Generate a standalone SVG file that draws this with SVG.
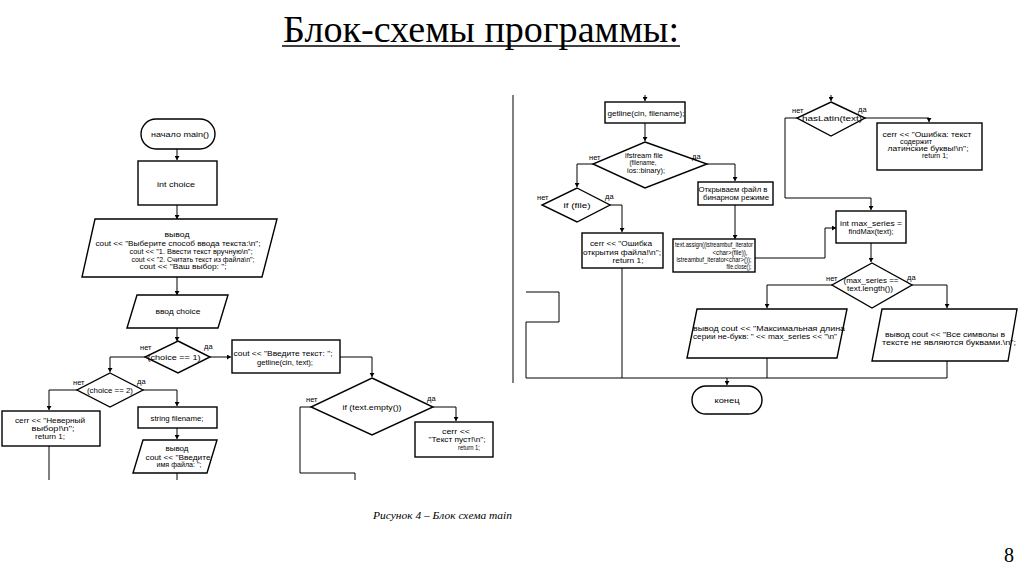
<svg xmlns="http://www.w3.org/2000/svg" width="1024" height="574" viewBox="0 0 1024 574">
<style>
.s{fill:#fff;stroke:#000;stroke-width:1.4}
.c{fill:none;stroke:#000;stroke-width:1}
.t{font-family:"Liberation Sans",Arial,sans-serif;font-size:8px;fill:#000;text-anchor:middle}
.l{font-family:"Liberation Sans",Arial,sans-serif;font-size:7.5px;fill:#000}
</style>
<defs>
<marker id="a" markerWidth="5" markerHeight="5" refX="4" refY="2.5" orient="auto" markerUnits="userSpaceOnUse">
<path d="M0,0 L4,2.5 L0,5 z" fill="#000"/>
</marker>
</defs>
<rect width="1024" height="574" fill="#fff"/>
<text x="481" y="42" font-family="Liberation Serif,serif" font-size="38" text-anchor="middle" textLength="396" lengthAdjust="spacingAndGlyphs">Блок-схемы программы:</text>
<line x1="282" y1="46" x2="680" y2="46" stroke="#000" stroke-width="1.5"/>

<g id="connectors">
<path class="c" d="M177,149 V160" marker-end="url(#a)"/>
<path class="c" d="M177,205 V219" marker-end="url(#a)"/>
<path class="c" d="M177,277 V295" marker-end="url(#a)"/>
<path class="c" d="M177,328 V341" marker-end="url(#a)"/>
<path class="c" d="M145,357 H110 V372" marker-end="url(#a)"/>
<path class="c" d="M210,357 H231" marker-end="url(#a)"/>
<path class="c" d="M77,390 H49 V410" marker-end="url(#a)"/>
<path class="c" d="M49,446 V480"/>
<path class="c" d="M143,390 H177 V406" marker-end="url(#a)"/>
<path class="c" d="M177,428 V439" marker-end="url(#a)"/>
<path class="c" d="M177,473 V480"/>
<path class="c" d="M340,357 H372 V377" marker-end="url(#a)"/>
<path class="c" d="M433,407 H456 V421" marker-end="url(#a)"/>
<path class="c" d="M311,407 H300 V473 H355 V480"/>

<path class="c" d="M513,95 V383"/>
<path class="c" d="M526,292 H559 V322 H526 V378 H947"/>
<path class="c" d="M645,95 V101" marker-end="url(#a)"/>
<path class="c" d="M645,123 V141" marker-end="url(#a)"/>
<path class="c" d="M593,164 H577 V187" marker-end="url(#a)"/>
<path class="c" d="M610,205 H622 V232" marker-end="url(#a)"/>
<path class="c" d="M622,268 V378"/>
<path class="c" d="M707,164 H735 V181" marker-end="url(#a)"/>
<path class="c" d="M735,205 V239" marker-end="url(#a)"/>
<path class="c" d="M755,258 H825 V228 H836" marker-end="url(#a)"/>
<path class="c" d="M831,95 V101" marker-end="url(#a)"/>
<path class="c" d="M797,118 H785 V198 H871 V210" marker-end="url(#a)"/>
<path class="c" d="M865,118 H929 V122" marker-end="url(#a)"/>
<path class="c" d="M871,243 V262" marker-end="url(#a)"/>
<path class="c" d="M832,285 H767 V308" marker-end="url(#a)"/>
<path class="c" d="M912,285 H947 V308" marker-end="url(#a)"/>
<path class="c" d="M767,358 V378"/>
<path class="c" d="M947,361 V378"/>
<path class="c" d="M727,378 V385" marker-end="url(#a)"/>
</g>

<g id="start"><rect class="s" x="141" y="119" width="74" height="30" rx="15"/><text class="t" x="180" y="137" textLength="58" lengthAdjust="spacingAndGlyphs">начало main()</text></g>
<g id="int-choice"><rect class="s" x="138" y="161" width="79" height="44"/><text class="t" x="176" y="187" textLength="38" lengthAdjust="spacingAndGlyphs">int choice</text></g>
<g id="menu-output"><polygon class="s" points="95,219 277,219 262,277 82,277"/>
<text class="t" x="177" y="237" textLength="25" lengthAdjust="spacingAndGlyphs">вывод</text>
<text class="t" x="178" y="246" textLength="165" lengthAdjust="spacingAndGlyphs">cout &lt;&lt; "Выберите способ ввода текста:\n";</text>
<text class="t" x="191" y="254" textLength="123" lengthAdjust="spacingAndGlyphs">cout &lt;&lt; "1. Ввести текст вручную\n";</text>
<text class="t" x="193" y="262" textLength="123" lengthAdjust="spacingAndGlyphs">cout &lt;&lt; "2. Считать текст из файла\n";</text>
<text class="t" x="183" y="269" textLength="87" lengthAdjust="spacingAndGlyphs">cout &lt;&lt; "Ваш выбор: ";</text></g>
<g id="input-choice"><polygon class="s" points="137,295 228,295 218,328 127,328"/><text class="t" x="178" y="314" textLength="45" lengthAdjust="spacingAndGlyphs">ввод choice</text></g>
<g id="choice1"><polygon class="s" points="178,341 210,357 178,373 145,357"/><text class="t" x="174" y="360" textLength="53" lengthAdjust="spacingAndGlyphs">(choice == 1)</text>
<text class="l" x="140" y="350">нет</text><text class="l" x="204" y="349">да</text></g>
<g id="choice2"><polygon class="s" points="110,373 143,390 110,407 77,390"/><text class="t" x="110" y="393" textLength="46" lengthAdjust="spacingAndGlyphs">(choice == 2)</text>
<text class="l" x="73" y="385">нет</text><text class="l" x="137" y="384">да</text></g>
<g id="err-choice"><rect class="s" x="2" y="411" width="98" height="35"/>
<text class="t" x="50" y="423" textLength="70" lengthAdjust="spacingAndGlyphs">cerr &lt;&lt; "Неверный</text><text class="t" x="53" y="431" textLength="43" lengthAdjust="spacingAndGlyphs">выбор!\n";</text><text class="t" x="50" y="439" textLength="30" lengthAdjust="spacingAndGlyphs">return 1;</text></g>
<g id="string-filename"><rect class="s" x="138" y="407" width="79" height="21"/><text class="t" x="177" y="421" textLength="53" lengthAdjust="spacingAndGlyphs">string filename;</text></g>
<g id="ask-filename"><polygon class="s" points="143,440 217,440 207,473 133,473"/>
<text class="t" x="177" y="451" textLength="23" lengthAdjust="spacingAndGlyphs">вывод</text><text class="t" x="178" y="460" textLength="65" lengthAdjust="spacingAndGlyphs">cout &lt;&lt; "Введите</text><text class="t" x="179" y="467" textLength="45" lengthAdjust="spacingAndGlyphs">имя файла: ";</text></g>
<g id="input-text"><rect class="s" x="232" y="340" width="108" height="33"/>
<text class="t" x="283" y="356" textLength="99" lengthAdjust="spacingAndGlyphs">cout &lt;&lt; "Введите текст: ";</text><text class="t" x="285" y="365" textLength="56" lengthAdjust="spacingAndGlyphs">getline(cin, text);</text></g>
<g id="text-empty"><polygon class="s" points="372,378 433,407 372,435 311,407"/><text class="t" x="372" y="410" textLength="59" lengthAdjust="spacingAndGlyphs">if (text.empty())</text>
<text class="l" x="306" y="402">нет</text><text class="l" x="427" y="401">да</text></g>
<g id="err-empty"><rect class="s" x="415" y="422" width="78" height="35"/>
<text class="t" x="456" y="434" textLength="28" lengthAdjust="spacingAndGlyphs">cerr &lt;&lt;</text><text class="t" x="457" y="442" textLength="57" lengthAdjust="spacingAndGlyphs">"Текст пуст!\n";</text><text class="t" x="469" y="450" textLength="22" lengthAdjust="spacingAndGlyphs">return 1;</text></g>

<g id="getline-filename"><rect class="s" x="605" y="102" width="80" height="21"/><text class="t" x="646" y="116" textLength="77" lengthAdjust="spacingAndGlyphs">getline(cin, filename);</text></g>
<g id="ifstream"><polygon class="s" points="645,142 707,164 645,188 593,164"/>
<text class="t" x="644" y="158" textLength="38" lengthAdjust="spacingAndGlyphs">ifstream file</text><text class="t" x="643" y="165" textLength="27" lengthAdjust="spacingAndGlyphs">(filename,</text><text class="t" x="646" y="173" textLength="38" lengthAdjust="spacingAndGlyphs">ios::binary);</text>
<text class="l" x="589" y="160">нет</text><text class="l" x="692" y="159">да</text></g>
<g id="if-file"><polygon class="s" points="577,188 610,205 577,222 542,205"/><text class="t" x="577" y="208" textLength="27" lengthAdjust="spacingAndGlyphs">if (file)</text>
<text class="l" x="537" y="200">нет</text><text class="l" x="605" y="199">да</text></g>
<g id="err-file"><rect class="s" x="582" y="233" width="81" height="35"/>
<text class="t" x="621" y="246" textLength="62" lengthAdjust="spacingAndGlyphs">cerr &lt;&lt; "Ошибка</text><text class="t" x="622" y="255" textLength="78" lengthAdjust="spacingAndGlyphs">открытия файла!\n";</text><text class="t" x="628" y="263" textLength="31" lengthAdjust="spacingAndGlyphs">return 1;</text></g>
<g id="open-binary"><rect class="s" x="698" y="182" width="75" height="23"/>
<text class="t" x="733" y="192" textLength="69" lengthAdjust="spacingAndGlyphs">Открываем файл в</text><text class="t" x="736" y="200" textLength="66" lengthAdjust="spacingAndGlyphs">бинарном режиме</text></g>
<g id="assign"><rect class="s" x="673" y="239" width="82" height="33"/>
<text class="t" x="714" y="247" textLength="78" lengthAdjust="spacingAndGlyphs">text.assign((istreambuf_iterator</text><text class="t" x="730" y="255" textLength="35" lengthAdjust="spacingAndGlyphs">&lt;char&gt;(file)),</text>
<text class="t" x="714" y="262" textLength="75" lengthAdjust="spacingAndGlyphs">istreambuf_iterator&lt;char&gt;());</text><text class="t" x="739" y="269" textLength="25" lengthAdjust="spacingAndGlyphs">file.close();</text></g>
<g id="haslatin"><polygon class="s" points="831,102 865,118 831,136 797,118"/><text class="t" x="832" y="121" textLength="60" lengthAdjust="spacingAndGlyphs">hasLatin(text)</text>
<text class="l" x="792" y="113">нет</text><text class="l" x="858" y="112">да</text></g>
<g id="err-latin"><rect class="s" x="877" y="123" width="105" height="47"/>
<text class="t" x="927" y="137" textLength="89" lengthAdjust="spacingAndGlyphs">cerr &lt;&lt; "Ошибка: текст</text><text class="t" x="916" y="144" textLength="32" lengthAdjust="spacingAndGlyphs">содержит</text>
<text class="t" x="928" y="151" textLength="81" lengthAdjust="spacingAndGlyphs">латинские буквы!\n";</text><text class="t" x="935" y="158" textLength="26" lengthAdjust="spacingAndGlyphs">return 1;</text></g>
<g id="max-series"><rect class="s" x="836" y="211" width="70" height="32"/>
<text class="t" x="871" y="226" textLength="62" lengthAdjust="spacingAndGlyphs">int max_series =</text><text class="t" x="871" y="234" textLength="45" lengthAdjust="spacingAndGlyphs">findMax(text);</text></g>
<g id="max-check"><polygon class="s" points="872,263 912,285 872,308 832,285"/>
<text class="t" x="871" y="283" textLength="55" lengthAdjust="spacingAndGlyphs">(max_series ==</text><text class="t" x="870" y="291" textLength="46" lengthAdjust="spacingAndGlyphs">text.length())</text>
<text class="l" x="826" y="281">нет</text><text class="l" x="907" y="280">да</text></g>
<g id="out-max"><polygon class="s" points="697,309 847,309 837,358 687,358"/>
<text class="t" x="769" y="331" textLength="152" lengthAdjust="spacingAndGlyphs">вывод cout &lt;&lt; "Максимальная длина</text>
<text class="t" x="765" y="339" textLength="144" lengthAdjust="spacingAndGlyphs">серии не-букв: " &lt;&lt; max_series &lt;&lt; "\n"</text></g>
<g id="out-all"><polygon class="s" points="882,309 1017,309 1008,361 872,361"/>
<text class="t" x="945" y="337" textLength="120" lengthAdjust="spacingAndGlyphs">вывод cout &lt;&lt; "Все символы в</text>
<text class="t" x="949" y="345" textLength="134" lengthAdjust="spacingAndGlyphs">тексте не являются буквами.\n";</text></g>
<g id="end"><rect class="s" x="692" y="386" width="70" height="28" rx="14"/><text class="t" x="727" y="403" textLength="25" lengthAdjust="spacingAndGlyphs">конец</text></g>

<text x="373" y="519" font-family="Liberation Serif,serif" font-size="10.5" font-style="italic" textLength="139" lengthAdjust="spacingAndGlyphs">Рисунок 4 – Блок схема main</text>
<text x="1009" y="562" font-family="Liberation Serif,serif" font-size="20" text-anchor="middle">8</text>
</svg>
